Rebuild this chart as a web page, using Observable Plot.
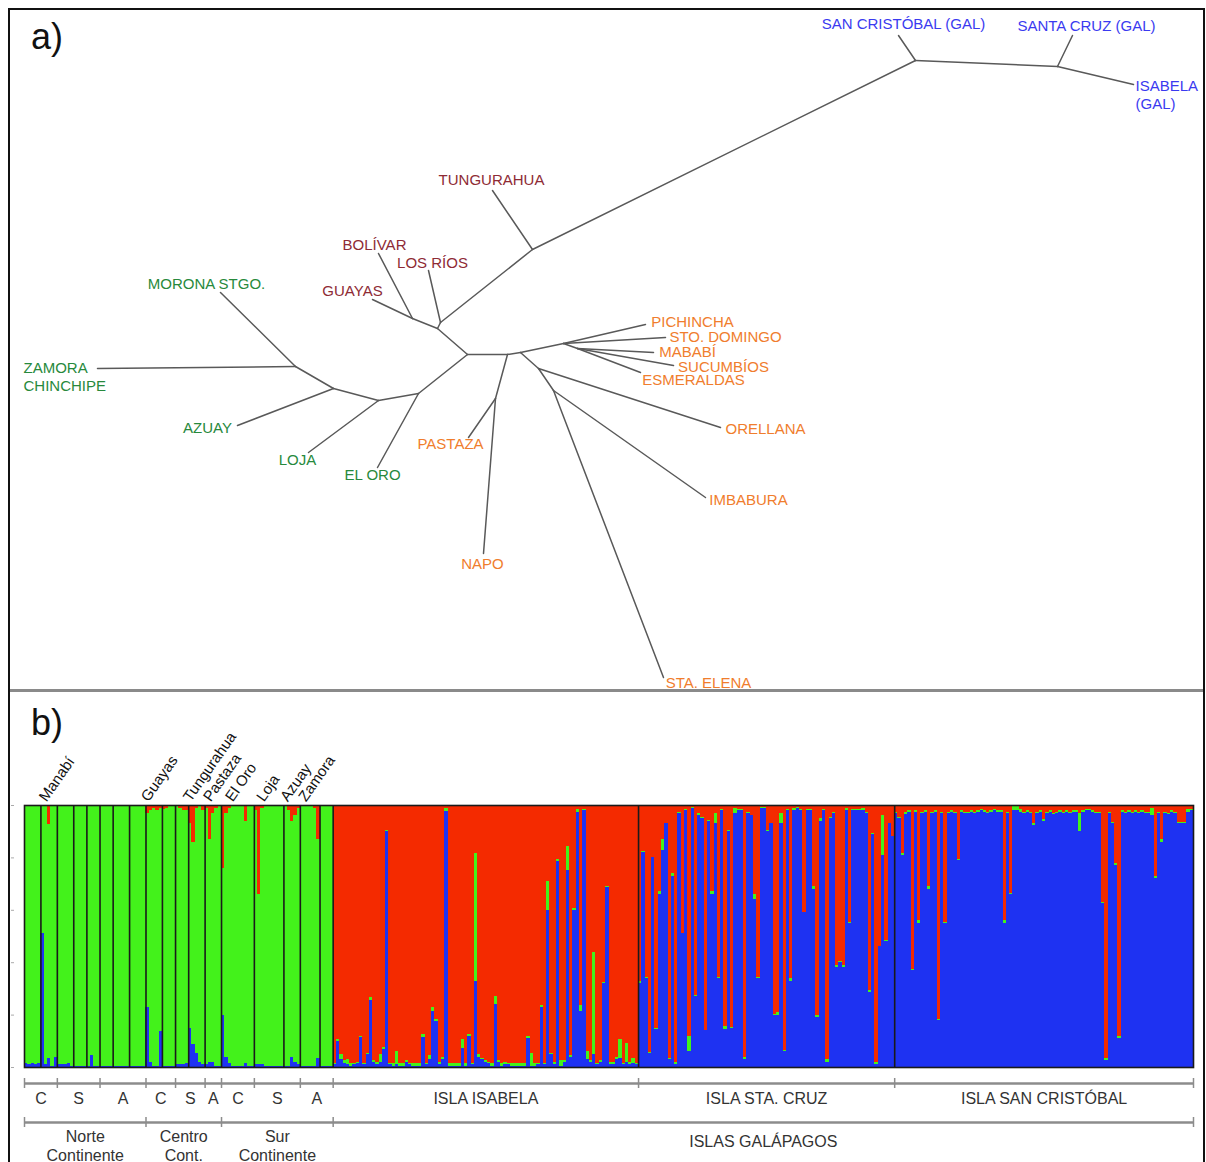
<!DOCTYPE html>
<html>
<head>
<meta charset="utf-8">
<script src="https://cdn.jsdelivr.net/npm/d3@7"></script>
<script src="https://cdn.jsdelivr.net/npm/@observablehq/plot@0.6"></script>
<style>
  html, body { margin: 0; padding: 0; background: #fff; }
  body { width: 1206px; height: 1162px; position: relative; overflow: hidden; font-family: "Liberation Sans", Arial, sans-serif; }
  #a, #b { position: absolute; left: 0; }
  #a { top: 0; }
  #b { top: 695px; }
  #frame { position: absolute; left: 8px; top: 8px; width: 1197px; height: 1170px; border: 2px solid #111; box-sizing: border-box; pointer-events: none; }
  #sep { position: absolute; left: 10px; top: 689px; width: 1193px; height: 3px; background: #8a8a8a; }
  .panel { position: absolute; left: 31px; font-size: 36px; line-height: 1; color: #111; }
</style>
</head>
<body>
<div id="a"></div>
<div id="b"></div>
<div id="sep"></div>
<div id="frame"></div>
<div class="panel" style="top:19px">a)</div>
<div class="panel" style="top:705px">b)</div>
<script>
// ---------------- Panel a: unrooted tree (node positions) ----------------
const treeNodes = [
  ["A",467,354],["F",437,328],["H",412,318],["G",440,322],["I",532,249],["J",915,60],["K",1057,66],
  ["B",418,393],["C",378,400],["D",333,388],["E",295,366],["P",507,354],["Q",495,398],["L",520,352],
  ["M",563,343],["M2",577,348],["N",538,368],["O",553,390],
  ["tSC",898,35],["tSZ",1072,35],["tIS",1133,84],["tTU",492,190],["tLR",428,270],["tBO",378,253],["tGU",372,299],
  ["tMO",220,292],["tZA",97,368],["tAZ",237,425],["tLO",308,452],["tEO",377,467],["tPA",468,437],["tNA",483,553],
  ["tPI",645,324],["tSD",665,337],["tMA",653,352],["tSU",673,365],["tES",640,372],["tOR",720,427],["tIM",705,497],["tSE",663,677]
];
const treeEdges = [
  ["A","F"],["F","H"],["F","G"],["G","tLR"],["G","I"],["I","tTU"],["I","J"],["J","tSC"],["J","K"],["K","tSZ"],["K","tIS"],
  ["H","tBO"],["H","tGU"],["A","B"],["B","tEO"],["B","C"],["C","tLO"],["C","D"],["D","tAZ"],["D","E"],["E","tMO"],["E","tZA"],
  ["A","P"],["P","L"],["P","Q"],["Q","tPA"],["Q","tNA"],["L","M"],["M","tPI"],["M","tSD"],["M","M2"],["M2","tMA"],["M2","tSU"],["M2","tES"],
  ["L","N"],["N","tOR"],["N","O"],["O","tIM"],["O","tSE"]
];
const leafLabels = [
  {label:"SAN CRISTÓBAL (GAL)", x:903, y:24, group:"gal"},
  {label:"SANTA CRUZ (GAL)", x:1086, y:26, group:"gal"},
  {label:"ISABELA\n(GAL)", x:1135, y:94, group:"gal", start:true},
  {label:"TUNGURAHUA", x:491, y:180, group:"centro"},
  {label:"BOLÍVAR", x:374, y:245, group:"centro"},
  {label:"LOS RÍOS", x:432, y:263, group:"centro"},
  {label:"GUAYAS", x:352, y:291, group:"centro"},
  {label:"MORONA STGO.", x:206, y:284, group:"sur"},
  {label:"ZAMORA\nCHINCHIPE", x:23, y:376, group:"sur", start:true},
  {label:"AZUAY", x:207, y:428, group:"sur"},
  {label:"LOJA", x:297, y:460, group:"sur"},
  {label:"EL ORO", x:372, y:475, group:"sur"},
  {label:"PASTAZA", x:450, y:444, group:"norte"},
  {label:"NAPO", x:482, y:564, group:"norte"},
  {label:"PICHINCHA", x:692, y:322, group:"norte"},
  {label:"STO. DOMINGO", x:725, y:337, group:"norte"},
  {label:"MABABÍ", x:687, y:352, group:"norte"},
  {label:"SUCUMBÍOS", x:723, y:367, group:"norte"},
  {label:"ESMERALDAS", x:693, y:380, group:"norte"},
  {label:"ORELLANA", x:765, y:429, group:"norte"},
  {label:"IMBABURA", x:748, y:500, group:"norte"},
  {label:"STA. ELENA", x:708, y:683, group:"norte"}
];
const groupColors = {gal:"#3a3af0", centro:"#8e2b35", sur:"#27893c", norte:"#f07d2d"};

// ---------------- Panel b: STRUCTURE membership (per individual) ----------------
const contPopSizes = [5,5,5,4,4,4,5,5,5,4,4,5,5,10,9,5,6,4];
const contBlue = [
  .015,.01,.015,.01,.015, .51,.01,.036,.005,.04, .01,.01,.01,.015,.005, .005,.005,.005,.005,
  .005,.045,.005,.005, .003,.003,.003,.003, .003,.003,.003,.003,.003, .003,.003,.003,.003,.003,
  .23,.02,.005,.005,.136, .005,.005,.005,.005, .01,.01,.01,.015, .15,.087,.055,.02,.01,
  .01,.02,.02,.005,.005, .2,.04,.015,.005,.005,.005,.005,.015,.005,.005,
  .01,.01,.01,.005,.005,.005,.005,.005,.005, .005,.005,.04,.02,.01,
  .005,.005,.005,.005,.005,.036, .005,.005,.005,.005
];
const contRed = [
  .005,.005,.005,.005,.005, .005,.005,.074,.005,.005, .005,.005,.005,.005,.005, .005,.005,.005,.005,
  .005,.005,.005,.005, .005,.005,.005,.005, .005,.005,.005,.005,.005, .005,.005,.005,.005,.005,
  .03,.02,.01,.02,.01, .015,.01,.005,.005, .005,.01,.02,.02, .07,.14,.01,.005,.02,
  .01,.13,.03,.01,.005, .24,.03,.01,.005,.005,.005,.005,.06,.005,.005,
  .02,.34,.01,.005,.005,.005,.005,.005,.005, .005,.02,.06,.04,.01,
  .005,.005,.005,.005,.01,.13, .005,.005,.005,.005
];
const isabelaBlue = [
  .01,.10,.03,.015,.01, .005,.01,.015,.115,.01,
  .05,.256,.02,.01,.02, .07,.90,.01,.005,.01,
  .005,.005,.02,.01,.005, .005,.005,.113,.01,.03,
  .215,.177,.01,.03,.977, .005,.005,.005,.005,.074,
  .005,.12,.01,.33,.04, .03,.02,.015,.005,.24,
  .02,.005,.01,.01,.005, .005,.005,.005,.005,.11,
  .005,.005,.01,.23,.01, .6,.05,.01,.785,.005,
  .02,.753,.04,.6,.973, .215,.98,.03,.02,.05,
  .01,.02,.32,.686,.01, .01,.03,.035,.01,.02,
  .01,.015,.01
];
const isabelaGreen = [
  .005,.005,.02,.01,.02, .01,.005,.005,.005,.005,
  .005,.01,.005,.01,.03, .005,.005,.005,.01,.05,
  .01,.01,.005,.005,.01, .01,.01,.012,.005,.015,
  .013,.005,.01,.01,.013, .01,.01,.01,.01,.032,
  .01,.005,.005,.485,.01, .005,.005,.005,.01,.03,
  .005,.01,.01,.005,.01, .01,.01,.01,.01,.01,
  .05,.01,.005,.005,.005, .11,.005,.01,.01,.02,
  .005,.09,.005,.005,.01, .02,.005,.03,.005,.39,
  .005,.005,.005,.005,.01, .01,.01,.07,.005,.07,
  .01,.02,.005
];
const staCruzBlue = [
  .32,.82,.34,.055,.80, .145,.66,.83,.93,.03,
  .73,.01,.97,.51,.98, .06,.99,.27,.96,.95,
  .14,.94,.66,.93,.34, .98,.145,.9,.15,.97,
  .98,.98,.03,.97,.96, .64,.34,.99,.99,.9,
  .93,.2,.2,.93,.06, .98,.33,.98,.99,.98,
  .59,.98,.98,.68,.19, .94,.98,.02,.95,.97,
  .38,.4,.38,.98,.55, .98,.98,.98,.98,.97,
  .285,.89,.01,.46,.81, .48,.93,.88
];
const staCruzGreen = [
  .01,.003,.003,.003,.003, .003,.01,.04,.003,.003,
  .01,.01,.003,.003,.003, .06,.003,.003,.01,.003,
  .003,.003,.01,.04,.003, .003,.01,.003,.003,.02,
  .003,.003,.01,.003,.003, .02,.003,.003,.003,.003,
  .003,.003,.01,.04,.003, .003,.01,.01,.003,.003,
  .003,.003,.003,.01,.01, .01,.003,.01,.003,.003,
  .01,.003,.01,.01,.003, .003,.003,.003,.01,.003,
  .01,.003,.01,.003,.15, .003,.003,.003
];
const sanCristobalBlue = [
  .97,.95,.81,.965,.975, .37,.975,.55,.97,.975,
  .68,.97,.975,.18,.97, .55,.97,.975,.97,.79,
  .975,.97,.97,.975,.97, .975,.98,.975,.97,.975,
  .98,.975,.975,.55,.97, .66,.98,.98,.975,.97,
  .975,.97,.925,.97,.975, .94,.97,.975,.965,.97,
  .975,.97,.975,.97,.975, .975,.90,.975,.98,.98,
  .975,.97,.97,.625,.026, .97,.93,.77,.11,.975,
  .97,.975,.97,.975,.97, .975,.97,.97,.96,.72,
  .97,.86,.97,.965,.975, .97,.93,.93,.93,.975,
  .98
];
const sanCristobalGreen = [
  .005,.005,.005,.01,.005, .005,.005,.01,.005,.005,
  .01,.005,.005,.005,.005, .005,.005,.005,.005,.005,
  .005,.005,.005,.005,.005, .005,.005,.005,.005,.005,
  .005,.005,.005,.01,.005, .005,.015,.015,.01,.005,
  .005,.005,.005,.005,.005, .005,.005,.005,.005,.005,
  .005,.005,.005,.005,.005, .005,.07,.005,.005,.005,
  .005,.005,.005,.005,.01, .005,.005,.01,.01,.005,
  .005,.005,.005,.005,.005, .005,.005,.005,.03,.01,
  .005,.01,.005,.005,.005, .005,.005,.005,.005,.01,
  .005
];
const popLabels = [
  {name:"Manabí", pos:6.7}, {name:"Guayas", pos:37.8}, {name:"Tungurahua", pos:50.6}, {name:"Pastaza", pos:56.7},
  {name:"El Oro", pos:63.4}, {name:"Loja", pos:72.9}, {name:"Azuay", pos:80.2}, {name:"Zamora", pos:85.7}
];
const clusterColors = {blue:"#1e32f2", green:"#43f21b", red:"#f42a00"};
const clusterOrder = ["blue","green","red"];

// build rows
const rows = [];
let idx = 0;
contBlue.forEach((b, k) => {
  const r = contRed[k];
  rows.push({i: idx, k: "blue", v: b}, {i: idx, k: "green", v: 1 - b - r}, {i: idx, k: "red", v: r});
  idx++;
});
const contEnd = idx;
function addIsland(blue, green) {
  blue.forEach((b, k) => {
    const g = green[k];
    rows.push({i: idx, k: "blue", v: b}, {i: idx, k: "green", v: g}, {i: idx, k: "red", v: Math.max(0, 1 - b - g)});
    idx++;
  });
  return idx;
}
const isaEnd = addIsland(isabelaBlue, isabelaGreen);
const scEnd = addIsland(staCruzBlue, staCruzGreen);
const N = addIsland(sanCristobalBlue, sanCristobalGreen);

const popBoundaries = Array.from(d3.cumsum(contPopSizes)).slice(0, -1).concat([contEnd, isaEnd, scEnd]);

// grouping brackets
const row1 = [
  {label:"C", s:0, e:10}, {label:"S", s:10, e:23}, {label:"A", s:23, e:37},
  {label:"C", s:37, e:46}, {label:"S", s:46, e:55}, {label:"A", s:55, e:60},
  {label:"C", s:60, e:70}, {label:"S", s:70, e:84}, {label:"A", s:84, e:contEnd},
  {label:"ISLA ISABELA", s:contEnd, e:isaEnd}, {label:"ISLA STA. CRUZ", s:isaEnd, e:scEnd},
  {label:"ISLA SAN CRISTÓBAL", s:scEnd, e:N}
];
const row2 = [
  {label:"Norte\nContinente", s:0, e:37}, {label:"Centro\nCont.", s:37, e:60},
  {label:"Sur\nContinente", s:60, e:contEnd}, {label:"ISLAS GALÁPAGOS", s:contEnd, e:N}
];
const row1Ticks = [0, ...row1.map(d => d.e)];
const row2Ticks = [0, ...row2.map(d => d.e)];

const font = "'Liberation Sans', Arial, sans-serif";
const nodeOf = id => treeNodes.find(n => n[0] === id);

const plotA = Plot.plot({
  width: 1206, height: 690, margin: 0,
  x: {domain: [0, 1206], axis: null},
  y: {domain: [690, 0], axis: null},
  style: {background: "transparent", fontFamily: font, overflow: "visible"},
  marks: [
    Plot.link(treeEdges, {
      x1: d => nodeOf(d[0])[1], y1: d => nodeOf(d[0])[2],
      x2: d => nodeOf(d[1])[1], y2: d => nodeOf(d[1])[2],
      stroke: "#595959", strokeWidth: 1.5, strokeLinecap: "round"
    }),
    Plot.text(leafLabels.filter(d => !d.start), {x: "x", y: "y", text: "label", fill: d => groupColors[d.group], fontSize: 15}),
    Plot.text(leafLabels.filter(d => d.start), {x: "x", y: "y", text: "label", fill: d => groupColors[d.group], fontSize: 15, textAnchor: "start", lineHeight: 1.2})
  ]
});
document.getElementById("a").append(plotA);

const grey = "#8c8c8c";
const plotB = Plot.plot({
  width: 1206, height: 467,
  marginLeft: 24, marginRight: 13, marginTop: 110, marginBottom: 95,
  x: {domain: [0, N], axis: null},
  y: {domain: [0, 1], axis: null},
  style: {background: "transparent", fontFamily: font, overflow: "visible"},
  marks: [
    Plot.rectY(rows, {x1: "i", x2: d => d.i + 1, y: "v", z: "k", fill: d => clusterColors[d.k], order: clusterOrder, shapeRendering: "crispEdges"}),
    Plot.ruleX(popBoundaries, {stroke: "#1a1a1a", strokeWidth: 1.6}),
    Plot.frame({stroke: "#1a1a1a", strokeWidth: 1.6}),
    Plot.axisY({ticks: [0, .2, .4, .6, .8, 1], tickSize: 3, tickFormat: () => "", label: null, stroke: "#aaa", dx: -10}),
    Plot.text(popLabels, {x: "pos", y: 1, text: "name", rotate: -55, textAnchor: "start", lineAnchor: "bottom", dy: -3, fontSize: 15, fill: "#111"}),
    // bracket row 1
    Plot.ruleY([0], {x1: 0, x2: N, dy: 16, stroke: grey, strokeWidth: 2.5}),
    Plot.ruleX(row1Ticks, {y1: 0, y2: 0, dy: 16, insetTop: -5, insetBottom: -5, stroke: grey, strokeWidth: 1.5}),
    Plot.text(row1, {x: d => (d.s + d.e) / 2, y: 0, dy: 31, text: "label", fontSize: 16, fill: "#333"}),
    // bracket row 2
    Plot.ruleY([0], {x1: 0, x2: N, dy: 55, stroke: grey, strokeWidth: 2.5}),
    Plot.ruleX(row2Ticks, {y1: 0, y2: 0, dy: 55, insetTop: -5, insetBottom: -5, stroke: grey, strokeWidth: 1.5}),
    Plot.text(row2.filter(d => d.label.includes("\n")), {x: d => (d.s + d.e) / 2, y: 0, dy: 78, text: "label", fontSize: 16, lineHeight: 1.15, fill: "#333"}),
    Plot.text(row2.filter(d => !d.label.includes("\n")), {x: d => (d.s + d.e) / 2, y: 0, dy: 74, text: "label", fontSize: 16, fill: "#333"})
  ]
});
document.getElementById("b").append(plotB);
</script>
</body>
</html>
